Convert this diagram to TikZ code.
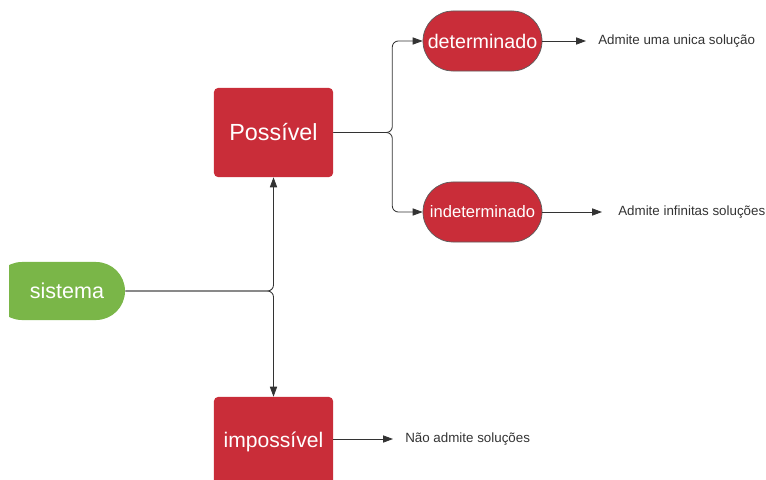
\documentclass[tikz,border=0pt]{standalone}
\usepackage{fontspec}
\setmainfont{Liberation Sans}
\usetikzlibrary{arrows.meta}
\definecolor{vermelho}{HTML}{C92D39}
\definecolor{verde}{HTML}{7AB648}
\definecolor{traco}{HTML}{333333}
\begin{document}
\begin{tikzpicture}[x=0.025cm, y=-0.025cm]
\tikzset{caixa/.style={fill=vermelho, text=white, rounded corners=0.1cm, minimum width=2.975cm, minimum height=2.225cm, inner sep=0pt},
pilula/.style={fill=vermelho, draw=traco!80, line width=0.5pt, text=white, rounded corners=0.75cm, minimum width=2.975cm, minimum height=1.5cm, inner sep=0pt},
rotulo/.style={text=traco, font=\fontsize{9.5}{11}\selectfont, anchor=west, inner sep=0pt},
seta/.style={draw=traco, line width=0.6pt, -{Triangle[length=0.25cm, width=0.18cm]}, rounded corners=0.15cm}}
\useasboundingbox (0,0) rectangle (766,479);
\clip (9,0) rectangle (766,479);
\node[fill=verde, text=white, rounded corners=0.725cm, minimum width=3.3cm, minimum height=1.45cm, inner sep=0pt, font=\fontsize{15.3}{18}\selectfont] (sistema) at (59,291) {\hspace{0.4cm}sistema};
\node[caixa, font=\fontsize{16.6}{20}\selectfont] (possivel) at (273.5,132.5) {Possível};
\node[caixa, font=\fontsize{15}{18}\selectfont] (impossivel) at (273.5,441.5) {impossível};
\node[pilula, font=\fontsize{14}{17}\selectfont] (det) at (482.5,41) {determinado};
\node[pilula, font=\fontsize{11.8}{14}\selectfont] (indet) at (482.5,212) {indeterminado};
\node[rotulo] (unica) at (598,41) {Admite uma unica solução};
\node[rotulo] (infinitas) at (618,212) {Admite infinitas soluções};
\node[rotulo] (nenhuma) at (405,439) {Não admite soluções};
\draw[seta] (sistema.east) -| (possivel.south);
\draw[seta] (sistema.east) -| (impossivel.north);
\draw[seta] (possivel.east) -- ++(59,0) |- (det.west);
\draw[seta] (possivel.east) -- ++(59,0) |- (indet.west);
\draw[seta, shorten >=0.3cm] (det.east) -- (unica.west);
\draw[seta, shorten >=0.4cm] (indet.east) -- (infinitas.west);
\draw[seta, shorten >=0.3cm] (impossivel.east |- nenhuma.west) -- (nenhuma.west);
\end{tikzpicture}
\end{document}
